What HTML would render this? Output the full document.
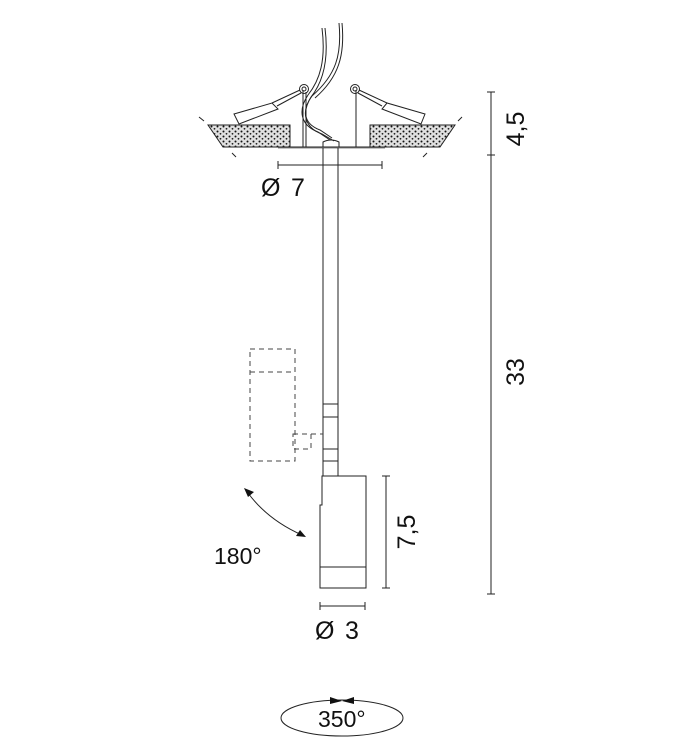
<!DOCTYPE html>
<html><head><style>
html,body{margin:0;padding:0;background:#fff;width:684px;height:745px;overflow:hidden}
svg{display:block}
text{font-family:"Liberation Sans",Arial,sans-serif;fill:#111}
</style></head><body>
<svg width="684" height="745" viewBox="0 0 684 745" xmlns="http://www.w3.org/2000/svg">
<defs>
<pattern id="dots" width="6" height="5" patternUnits="userSpaceOnUse">
<rect width="6" height="5" fill="#e0e0e0"/>
<circle cx="1.5" cy="1.5" r="1" fill="#111"/>
<circle cx="4.5" cy="3.8" r="0.9" fill="#222"/>
</pattern>
</defs>
<g stroke="#222" stroke-width="1" fill="none">
<polygon points="208,125 290,125 290,147 223,147" fill="url(#dots)"/>
<polygon points="370,125 455,125 440,147 370,147" fill="url(#dots)"/>
<line x1="199" y1="117" x2="204" y2="121"/><line x1="232" y1="153" x2="236" y2="157"/>
<line x1="462" y1="117" x2="458" y2="121"/><line x1="427" y1="153" x2="423" y2="157"/>
<line x1="278" y1="147" x2="385" y2="147"/>
<line x1="278" y1="148" x2="385" y2="148" stroke="#888"/>
<line x1="303" y1="90" x2="303" y2="147"/><line x1="306" y1="92" x2="306" y2="147"/>
<line x1="356" y1="90" x2="356" y2="147"/>
<circle cx="304" cy="89" r="4.5"/><circle cx="304" cy="89" r="2"/>
<circle cx="355" cy="89" r="4.5"/><circle cx="355" cy="89" r="2"/>
<path d="M234,114 L272,103 L278,109 L239,124 Z"/>
<line x1="272" y1="103" x2="300" y2="90"/><line x1="277" y1="106" x2="301" y2="93"/>
<path d="M425,114 L387,103 L382,109 L421,124 Z"/>
<line x1="387" y1="103" x2="359" y2="90"/><line x1="382" y1="106" x2="358" y2="93"/>
<path d="M322,28 C326,60 320,80 308,95 C298,110 300,125 318,132 L330,140"/>
<path d="M325,28 C329,60 323,82 311,97 C302,112 304,124 320,130 L332,138"/>
<path d="M339,23 C342,55 336,75 312,96 C300,112 305,128 322,134 L334,141"/>
<path d="M342,23 C345,55 339,77 315,98"/>
<path d="M323,147 L323,142 Q331,138 339,142 L339,147"/>
<line x1="278" y1="165" x2="382" y2="165"/><line x1="278" y1="161" x2="278" y2="169"/><line x1="382" y1="161" x2="382" y2="169"/>
<line x1="323" y1="148" x2="323" y2="476"/><line x1="338" y1="148" x2="338" y2="476"/>
<line x1="323" y1="404" x2="338" y2="404"/><line x1="323" y1="417" x2="338" y2="417"/>
<line x1="323" y1="449" x2="338" y2="449"/><line x1="323" y1="461" x2="338" y2="461"/>
<path d="M322,476 L366,476 L366,588 L320,588 L320,505 L322,505 Z"/>
<line x1="320" y1="567" x2="366" y2="567"/>
<g stroke-dasharray="5,4" stroke="#444">
<rect x="250" y="349" width="45" height="112"/>
<line x1="250" y1="372" x2="295" y2="372"/>
<rect x="293" y="434" width="18" height="15"/>
<line x1="311" y1="434" x2="323" y2="434"/>
</g>
<line x1="386" y1="476" x2="386" y2="588"/><line x1="382" y1="476" x2="390" y2="476"/><line x1="382" y1="588" x2="390" y2="588"/>
<line x1="320" y1="606" x2="365" y2="606"/><line x1="320" y1="602" x2="320" y2="610"/><line x1="365" y1="602" x2="365" y2="610"/>
<path d="M248,493 Q268,520 302,535"/>
<line x1="491" y1="92" x2="491" y2="594"/>
<line x1="487" y1="92" x2="495" y2="92"/><line x1="487" y1="155" x2="495" y2="155"/><line x1="487" y1="594" x2="495" y2="594"/>
<ellipse cx="342" cy="718" rx="61" ry="18"/>
</g>
<polygon points="244,488 254,492 248,497" fill="#111"/>
<polygon points="306,537 296,536 300,530" fill="#111"/>
<polygon points="330,697 342,701 330,704" fill="#111"/>
<polygon points="354,697 342,701 354,704" fill="#111"/>
<text x="261" y="196" font-size="25">Ø</text><text x="291" y="196" font-size="25">7</text>
<text x="315" y="639" font-size="25">Ø</text><text x="345" y="639" font-size="25">3</text>
<text x="214" y="564" font-size="23">180°</text>
<text x="318" y="727" font-size="23">350°</text>
<text transform="translate(524,129) rotate(-90)" font-size="25" text-anchor="middle">4,5</text>
<text transform="translate(524,372) rotate(-90)" font-size="25" text-anchor="middle">33</text>
<text transform="translate(415,532) rotate(-90)" font-size="25" text-anchor="middle">7,5</text>
</svg>
</body></html>
